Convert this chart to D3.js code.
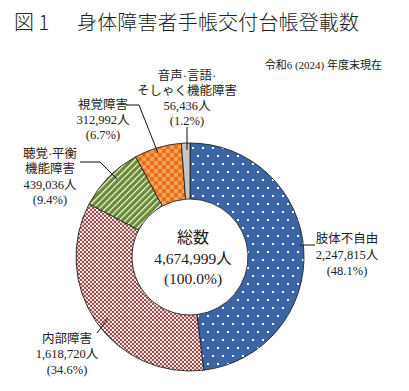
<!DOCTYPE html>
<html><head><meta charset="utf-8">
<script src="https://cdn.jsdelivr.net/npm/d3@7"></script>
<style>
html,body{margin:0;padding:0;background:#fff;}
svg{display:block;}
text{font-family:"Liberation Serif","Noto Sans CJK JP",serif;fill:#222;}
</style></head><body>
<script>
const categories = ["肢体不自由","内部障害","聴覚·平衡機能障害","視覚障害","音声·言語·そしゃく機能障害"];
const values = [2247815,1618720,439036,312992,56436];
const percents = ["48.1%","34.6%","9.4%","6.7%","1.2%"];
const labelLines = [
  ["肢体不自由","2,247,815人","(48.1%)"],
  ["内部障害","1,618,720人","(34.6%)"],
  ["聴覚·平衡","機能障害","439,036人","(9.4%)"],
  ["視覚障害","312,992人","(6.7%)"],
  ["音声·言語·","そしゃく機能障害","56,436人","(1.2%)"]
];
const totalLines = ["総数","4,674,999人","(100.0%)"];
const title1 = "図 1";
const title2 = "身体障害者手帳交付台帳登載数";
const subtitle = "令和6 (2024) 年度末現在";

const W=409,H=391;
const svg=d3.select("body").append("svg").attr("width",W).attr("height",H);
const defs=svg.append("defs");

// blue dots
let p=defs.append("pattern").attr("id","pBlue").attr("patternUnits","userSpaceOnUse").attr("width",10).attr("height",16);
p.append("rect").attr("width",10).attr("height",16).attr("fill","#3c65a5");
p.append("rect").attr("x",2).attr("y",2).attr("width",2).attr("height",2).attr("fill","#fff");
p.append("rect").attr("x",7).attr("y",10).attr("width",2).attr("height",2).attr("fill","#fff");
// pink checker
p=defs.append("pattern").attr("id","pPink").attr("patternUnits","userSpaceOnUse").attr("width",8).attr("height",8);
p.append("rect").attr("width",8).attr("height",8).attr("fill","#f0d8d8");
[[0,0],[4,0],[2,2],[6,2],[0,4],[4,4],[2,6],[6,6]].forEach(([x,y])=>p.append("rect").attr("x",x).attr("y",y).attr("width",2).attr("height",2).attr("fill","#985252"));
p.append("rect").attr("x",2).attr("y",0).attr("width",2).attr("height",2).attr("fill","#fff");
// green stripes
p=defs.append("pattern").attr("id","pGreen").attr("patternUnits","userSpaceOnUse").attr("width",4.5).attr("height",4.5).attr("patternTransform","rotate(45)");
p.append("rect").attr("width",4.5).attr("height",4.5).attr("fill","#6b8b32");
p.append("rect").attr("x",0).attr("y",0).attr("width",1.1).attr("height",4.5).attr("fill","#fff");
// orange checker
p=defs.append("pattern").attr("id","pOrange").attr("patternUnits","userSpaceOnUse").attr("width",8).attr("height",8);
p.append("rect").attr("width",8).attr("height",8).attr("fill","#f4a058");
p.append("rect").attr("x",0).attr("y",0).attr("width",4).attr("height",4).attr("fill","#e6701c");
p.append("rect").attr("x",4).attr("y",4).attr("width",4).attr("height",4).attr("fill","#e6701c");

const fills=["url(#pBlue)","url(#pPink)","url(#pGreen)","url(#pOrange)","#c6c6c6"];

// title
svg.append("text").attr("x",14).attr("y",30).attr("font-size",20).style("font-family","'Noto Sans CJK JP',serif").attr("font-weight",300).text(title1);
svg.append("text").attr("x",77).attr("y",30).attr("font-size",20).attr("textLength",282).style("font-family","'Noto Sans CJK JP',serif").attr("font-weight",300).text(title2);
svg.append("text").attr("x",382).attr("y",69).attr("text-anchor","end").attr("font-size",11).text(subtitle);

const cx=190,cy=257,rO=114,rI=58;
const g=svg.append("g").attr("transform",`translate(${cx},${cy})`);
const pie=d3.pie().sort(null).startAngle(0).endAngle(2*Math.PI);
const arcs=pie(values);
const arc=d3.arc().innerRadius(rI).outerRadius(rO);
g.selectAll("path.s").data(arcs).join("path").attr("class","s")
 .attr("d",arc).attr("fill",(d,i)=>fills[i]).attr("stroke","#222").attr("stroke-width",0.9);

// center text
const ct=svg.append("g");
[[238,16],[259,15.5],[279,15.5]].forEach(([y,fs],i)=>{
  ct.append("text").attr("x",193).attr("y",y+5).attr("text-anchor","middle").attr("font-size",fs).text(totalLines[i]);
});

// labels
const labelPos=[
  {x:347,y:238,anchor:"middle"},
  {x:67,y:338,anchor:"middle"},
  {x:50,y:153,anchor:"middle"},
  {x:103,y:104,anchor:"middle"},
  {x:187,y:75,anchor:"middle"}
];
const lh=[16,15.5,15.5,15,15];
labelLines.forEach((lines,i)=>{
  const lp=labelPos[i];
  lines.forEach((t,j)=>{
    svg.append("text").attr("x",lp.x).attr("y",lp.y+j*lh[i]+4.5).attr("text-anchor",lp.anchor).attr("font-size",12.5).text(t);
  });
});

// leader lines
const leaders=[
  [[300,245],[315,245]],
  [[97,333],[108,318]],
  [[80,162],[100,162],[117,179]],
  [[126,105],[139,105],[158,153]],
  [[187,127],[187,150]]
];
leaders.forEach(pts=>{
  svg.append("path").attr("d",d3.line()(pts)).attr("fill","none").attr("stroke","#111").attr("stroke-width",1);
});
</script>
</body></html>
